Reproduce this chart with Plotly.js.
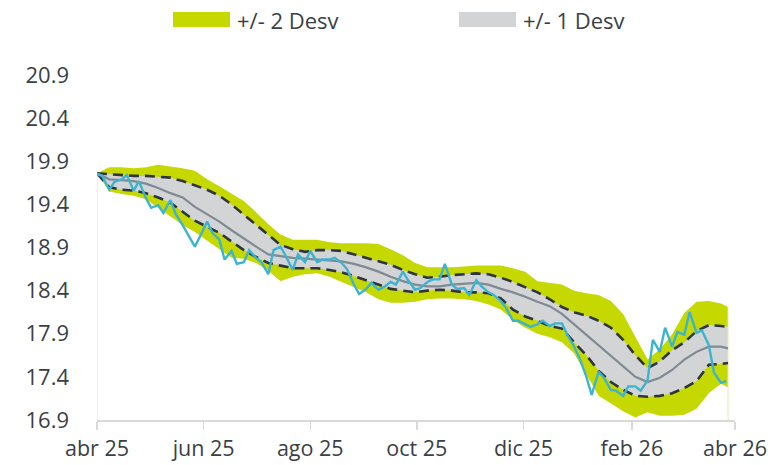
<!DOCTYPE html>
<html>
<head>
<meta charset="utf-8">
<script src="https://cdn.plot.ly/plotly-3.0.1.min.js"></script>
<style>html,body{margin:0;padding:0;background:#fff;}#chart{width:775px;height:465px;}</style>
</head>
<body>
<div id="chart"></div>
<script>
// Weekly dates for the bands
const bandDates = ['2025-04-01','2025-04-08','2025-04-15','2025-04-22','2025-04-29','2025-05-06','2025-05-13','2025-05-20','2025-05-27','2025-06-03','2025-06-10','2025-06-17','2025-06-24','2025-07-01','2025-07-08','2025-07-15','2025-07-22','2025-07-29','2025-08-05','2025-08-12','2025-08-19','2025-08-26','2025-09-02','2025-09-09','2025-09-16','2025-09-23','2025-09-30','2025-10-07','2025-10-14','2025-10-21','2025-10-28','2025-11-04','2025-11-11','2025-11-18','2025-11-25','2025-12-02','2025-12-09','2025-12-16','2025-12-23','2025-12-30','2026-01-06','2026-01-13','2026-01-20','2026-01-27','2026-02-03','2026-02-10','2026-02-17','2026-02-24','2026-03-03','2026-03-10','2026-03-17','2026-03-24','2026-03-28'];
const meanVals = [19.76,19.69,19.68,19.67,19.64,19.59,19.53,19.48,19.37,19.29,19.20,19.10,19.00,18.91,18.82,18.80,18.78,18.77,18.76,18.75,18.74,18.71,18.67,18.62,18.56,18.51,18.47,18.45,18.45,18.47,18.48,18.49,18.47,18.42,18.38,18.33,18.27,18.22,18.13,18.01,17.89,17.77,17.64,17.53,17.40,17.34,17.39,17.48,17.60,17.69,17.75,17.75,17.73];
const up1Vals = [19.76,19.75,19.74,19.73,19.73,19.72,19.71,19.67,19.62,19.57,19.50,19.40,19.28,19.16,19.04,18.93,18.88,18.85,18.87,18.87,18.86,18.82,18.78,18.74,18.70,18.64,18.59,18.55,18.56,18.58,18.59,18.60,18.59,18.55,18.50,18.44,18.38,18.30,18.21,18.15,18.11,18.05,17.97,17.83,17.65,17.50,17.58,17.71,17.80,17.93,18.00,17.99,17.98];
const lo1Vals = [19.76,19.60,19.57,19.56,19.53,19.48,19.42,19.31,19.21,19.14,19.07,18.97,18.87,18.79,18.72,18.69,18.66,18.66,18.66,18.64,18.61,18.57,18.52,18.47,18.42,18.40,18.38,18.40,18.41,18.40,18.38,18.38,18.37,18.31,18.18,18.10,18.05,17.99,17.96,17.80,17.65,17.47,17.34,17.25,17.18,17.17,17.18,17.21,17.27,17.35,17.54,17.55,17.56];
const up2Vals = [19.76,19.83,19.83,19.82,19.83,19.86,19.84,19.82,19.79,19.69,19.61,19.53,19.44,19.31,19.17,19.05,18.99,18.99,18.99,18.96,18.95,18.95,18.95,18.94,18.88,18.81,18.72,18.67,18.67,18.67,18.68,18.69,18.69,18.69,18.66,18.62,18.51,18.49,18.47,18.40,18.37,18.35,18.28,18.13,17.86,17.60,17.72,17.89,18.14,18.27,18.28,18.25,18.21];
const lo2Vals = [19.76,19.55,19.52,19.50,19.46,19.36,19.27,19.16,19.08,18.98,18.87,18.78,18.77,18.72,18.63,18.51,18.56,18.59,18.60,18.56,18.50,18.44,18.38,18.30,18.26,18.26,18.27,18.30,18.31,18.31,18.30,18.28,18.24,18.18,18.06,17.97,17.90,17.86,17.80,17.67,17.42,17.18,17.09,17.00,16.93,16.99,16.95,16.95,16.96,17.03,17.21,17.32,17.28];

// Observed series (twice a week)
const obsDates = ['2025-04-01','2025-04-04','2025-04-08','2025-04-11','2025-04-15','2025-04-18','2025-04-22','2025-04-25','2025-04-29','2025-05-02','2025-05-06','2025-05-09','2025-05-13','2025-05-16','2025-05-20','2025-05-23','2025-05-27','2025-05-30','2025-06-03','2025-06-06','2025-06-10','2025-06-13','2025-06-17','2025-06-20','2025-06-24','2025-06-27','2025-07-01','2025-07-04','2025-07-08','2025-07-11','2025-07-15','2025-07-18','2025-07-22','2025-07-25','2025-07-29','2025-08-01','2025-08-05','2025-08-08','2025-08-12','2025-08-15','2025-08-19','2025-08-22','2025-08-26','2025-08-29','2025-09-02','2025-09-05','2025-09-09','2025-09-12','2025-09-16','2025-09-19','2025-09-23','2025-09-26','2025-09-30','2025-10-03','2025-10-07','2025-10-10','2025-10-14','2025-10-17','2025-10-21','2025-10-24','2025-10-28','2025-10-31','2025-11-04','2025-11-07','2025-11-11','2025-11-14','2025-11-18','2025-11-21','2025-11-25','2025-11-28','2025-12-02','2025-12-05','2025-12-09','2025-12-12','2025-12-16','2025-12-19','2025-12-23','2025-12-26','2025-12-30','2026-01-02','2026-01-06','2026-01-09','2026-01-13','2026-01-16','2026-01-20','2026-01-23','2026-01-27','2026-01-30','2026-02-03','2026-02-06','2026-02-10','2026-02-13','2026-02-17','2026-02-20','2026-02-24','2026-02-27','2026-03-03','2026-03-06','2026-03-10','2026-03-13','2026-03-17','2026-03-20','2026-03-24','2026-03-27'];
const obsVals = [19.75,19.73,19.57,19.66,19.69,19.74,19.56,19.67,19.47,19.36,19.39,19.30,19.45,19.29,19.16,19.06,18.91,19.03,19.20,19.07,18.99,18.76,18.86,18.71,18.73,18.87,18.78,18.73,18.59,18.87,18.91,18.80,18.64,18.82,18.73,18.86,18.73,18.76,18.76,18.78,18.72,18.65,18.47,18.36,18.42,18.49,18.41,18.44,18.50,18.47,18.62,18.52,18.41,18.43,18.50,18.53,18.53,18.71,18.47,18.42,18.43,18.35,18.52,18.45,18.38,18.35,18.28,18.20,18.05,18.05,18.01,17.98,18.01,18.05,17.99,18.02,18.02,17.89,17.75,17.62,17.40,17.19,17.46,17.39,17.25,17.24,17.18,17.29,17.29,17.24,17.36,17.83,17.69,17.97,17.75,17.92,17.89,18.15,17.91,17.94,17.77,17.45,17.33,17.35];

const yTicks = [16.9,17.4,17.9,18.4,18.9,19.4,19.9,20.4,20.9];
const xTickVals = ['2025-04-01','2025-06-01','2025-08-01','2025-10-01','2025-12-01','2026-02-01','2026-04-01'];
const xTickText = ['abr 25','jun 25','ago 25','oct 25','dic 25','feb 26','abr 26'];
const legendNames = ['+/- 2 Desv','+/- 1 Desv'];

const YELLOW = '#c5d800', GREYBAND = '#d3d4d6', DARK = '#2e353d', MEANC = '#808a94', BLUE = '#3db4cf';
const FONT = '"Open Sans", Lato, sans-serif';
const TXT = '#3a3f47';

// plot geometry (pixels)
const W = 775, H = 465, ML = 97, MR = 40, MT = 75, MB = 45;
const pw = W - ML - MR, ph = H - MT - MB;
const px = v => (v - ML) / pw;           // pixel x -> paper x
const py = v => (H - MB - v) / ph;       // pixel y -> paper y

const last = bandDates.length - 1;
const traces = [
  {x: bandDates, y: lo2Vals, mode: 'lines', line: {width: 0, color: YELLOW}, showlegend: false, hoverinfo: 'skip'},
  {x: bandDates, y: up2Vals, mode: 'lines', line: {width: 0, color: YELLOW}, fill: 'tonexty', fillcolor: YELLOW, showlegend: false, hoverinfo: 'skip'},
  {x: bandDates, y: lo1Vals, mode: 'lines', line: {width: 0, color: GREYBAND}, showlegend: false, hoverinfo: 'skip'},
  {x: bandDates, y: up1Vals, mode: 'lines', line: {width: 0, color: GREYBAND}, fill: 'tonexty', fillcolor: GREYBAND, showlegend: false, hoverinfo: 'skip'},
  // faint edges of the area
  {x: [bandDates[0], bandDates[0]], y: [yTicks[0], up2Vals[0]], mode: 'lines', line: {width: 1, color: '#e3ecb0'}, showlegend: false, hoverinfo: 'skip'},
  {x: [bandDates[last], bandDates[last]], y: [yTicks[0], up2Vals[last]], mode: 'lines', line: {width: 1, color: '#e3ecb0'}, showlegend: false, hoverinfo: 'skip'},
  {x: bandDates, y: up1Vals, mode: 'lines', line: {width: 2.6, color: DARK, dash: '10px,6px'}, showlegend: false},
  {x: bandDates, y: lo1Vals, mode: 'lines', line: {width: 2.6, color: DARK, dash: '10px,6px'}, showlegend: false},
  {x: bandDates, y: meanVals, mode: 'lines', line: {width: 2.2, color: MEANC}, showlegend: false},
  {x: obsDates, y: obsVals, mode: 'lines', line: {width: 2.4, color: BLUE}, showlegend: false}
];

// legend built from swatches + text
const legendItems = [
  {name: legendNames[0], color: YELLOW, x0: 173, x1: 230, tx: 235},
  {name: legendNames[1], color: GREYBAND, x0: 459, x1: 516, tx: 521}
];
const shapes = legendItems.map(it => ({
  type: 'rect', xref: 'paper', yref: 'paper',
  x0: px(it.x0), x1: px(it.x1), y0: py(27), y1: py(12),
  fillcolor: it.color, line: {width: 0}
}));
const annotations = legendItems.map(it => ({
  xref: 'paper', yref: 'paper', x: px(it.tx), y: py(19.5),
  xanchor: 'left', yanchor: 'middle', showarrow: false,
  text: it.name, font: {family: FONT, size: 22, color: TXT}
}));

const layout = {
  width: W, height: H,
  margin: {l: ML, r: MR, t: MT, b: MB},
  paper_bgcolor: '#ffffff', plot_bgcolor: '#ffffff',
  font: {family: FONT, size: 22, color: TXT},
  showlegend: false,
  shapes: shapes,
  annotations: annotations,
  xaxis: {
    type: 'date', range: ['2025-04-01', '2026-04-01'],
    tickvals: xTickVals, ticktext: xTickText,
    showgrid: false, zeroline: false,
    showline: true, linecolor: '#d9d9d9', linewidth: 1.5,
    ticks: 'outside', ticklen: 8, tickcolor: '#d9d9d9', tickwidth: 1.5,
    ticklabelstandoff: 1,
    tickfont: {family: FONT, size: 21.5, color: TXT}
  },
  yaxis: {
    range: [16.9, 20.9], tickvals: yTicks, ticktext: yTicks.map(v => v.toFixed(1)),
    showgrid: false, zeroline: false, showline: false,
    ticks: '', ticklabelstandoff: 27,
    tickfont: {family: FONT, size: 22, color: TXT}
  }
};

Plotly.newPlot('chart', traces, layout, {displayModeBar: false, staticPlot: true});
</script>
</body>
</html>
